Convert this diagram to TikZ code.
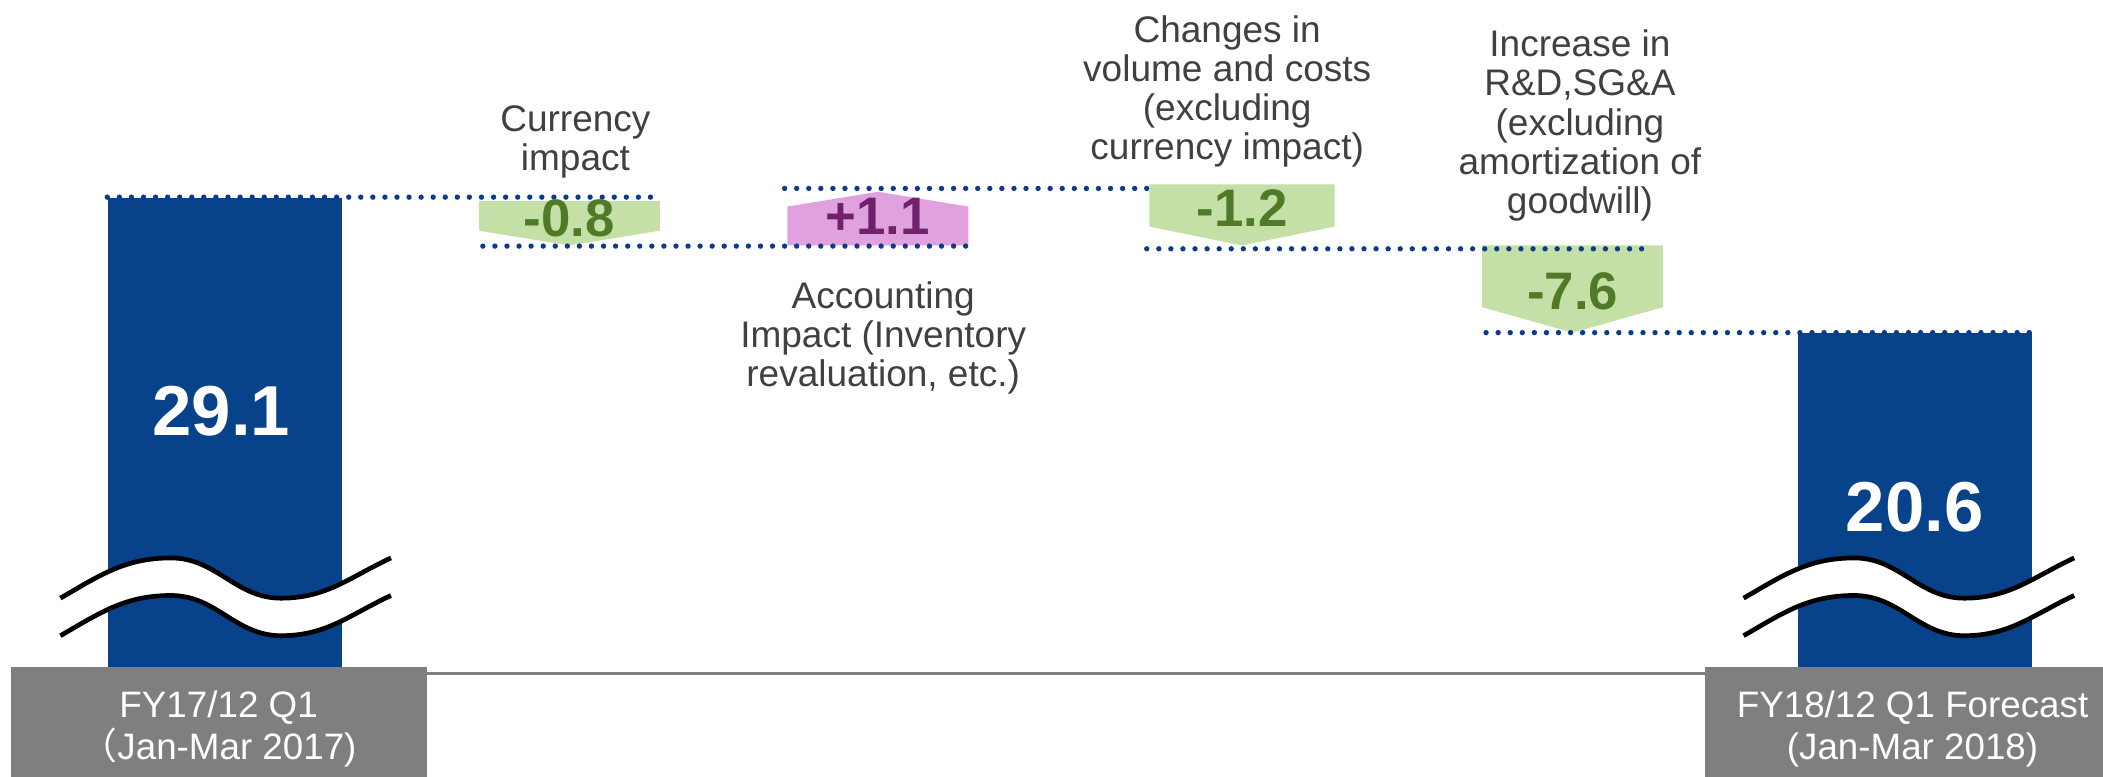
\documentclass[tikz,border=0pt]{standalone}
\usepackage{fontspec}
\setmainfont{Liberation Sans}
\newfontfamily\cjkfont{Noto Sans CJK SC}

\definecolor{barblue}{RGB}{8,66,138}
\definecolor{dotblue}{RGB}{10,60,140}
\definecolor{boxgray}{RGB}{127,127,127}
\definecolor{lossgreen}{RGB}{196,224,166}
\definecolor{lossdark}{RGB}{79,122,40}
\definecolor{gainpink}{RGB}{224,162,222}
\definecolor{gaindark}{RGB}{113,33,107}
\definecolor{txtgray}{RGB}{64,64,64}

\begin{document}
\begin{tikzpicture}[
  lvl/.style={draw=dotblue, line width=0.08cm, line cap=round, dash pattern=on 0pt off 0.18cm},
  lbl/.style={text=txtgray, align=center, inner sep=0pt, anchor=base, font=\fontsize{15.7}{16.6}\selectfont},
  num/.style={inner sep=0pt, font=\fontsize{22.4}{24}\selectfont\bfseries},
  bignum/.style={text=white, inner sep=0pt, font=\fontsize{30}{32}\selectfont\bfseries},
  bar/.style={fill=barblue, inner sep=0pt, anchor=north west},
  cat/.style={fill=boxgray, inner sep=0pt, anchor=north west},
  cattext/.style={text=white, align=center, inner sep=0pt, anchor=base, font=\fontsize{15.6}{18}\selectfont},
  brk/.style={line width=0.07cm}
]
\useasboundingbox (0,0) rectangle (31.36,-11.58);

% start and end bars
\node[bar, minimum width=3.50cm, minimum height=7.00cm] (bar1) at (1.60,-2.94) {};
\node[bar, minimum width=3.50cm, minimum height=4.98cm] (bar2) at (26.80,-4.96) {};
\node[bignum] (v1) at (3.30,-6.13) {29.1};
\node[bignum] (v2) at (28.55,-7.56) {20.6};

% level lines
\coordinate (a1) at (9.84,-2.94);
\coordinate (a2) at (7.20,-3.67);  \coordinate (b2) at (14.44,-3.67);
\coordinate (a3) at (11.70,-2.81); \coordinate (b3) at (19.90,-2.81);
\coordinate (a4) at (17.10,-3.71); \coordinate (b4) at (24.56,-3.71);
\coordinate (a5) at (22.16,-4.96);
\draw[lvl] (a3) -- (b3);

% steps
\fill[lossgreen] (7.14,-3.00) -- (9.84,-3.00) -- (9.84,-3.44) -- (8.49,-3.66) -- (7.14,-3.44) -- cycle;
\fill[gainpink] (11.74,-3.66) -- (11.74,-3.08) -- (13.09,-2.86) -- (14.44,-3.08) -- (14.44,-3.66) -- cycle;
\fill[lossgreen] (17.14,-2.75) -- (19.90,-2.75) -- (19.90,-3.38) -- (18.52,-3.66) -- (17.14,-3.38) -- cycle;
\fill[lossgreen] (22.10,-3.66) -- (24.80,-3.66) -- (24.80,-4.58) -- (23.45,-4.96) -- (22.10,-4.58) -- cycle;

\draw[lvl] (bar1.north west) -- (a1);
\draw[lvl] (a2) -- (b2);
\draw[lvl] (a4) -- (b4);
\draw[lvl] (a5) -- (bar2.north east);

\node[num, text=lossdark] (d1) at (8.49,-3.26) {-0.8};
\node[num, text=gaindark] (d2) at (13.09,-3.22) {+1.1};
\node[num, text=lossdark] (d3) at (18.52,-3.11) {-1.2};
\node[num, text=lossdark] (d4) at (23.45,-4.34) {-7.6};

% step labels (base = last line)
\node[lbl] (tcur) at (8.58,-2.54) {Currency\\impact};
\node[lbl] (tacc) at (13.17,-5.77) {Accounting\\Impact (Inventory\\revaluation, etc.)};
\node[lbl] (tvol) at (18.30,-2.38) {Changes in\\volume and costs\\(excluding\\currency impact)};
\node[lbl] (trd) at (23.56,-3.18) {Increase in\\R\&D,SG\&A\\(excluding\\amortization of\\goodwill)};

% axis breaks
\foreach \x in {0.90,26.00} {
  \begin{scope}[shift={(\x,0)}]
    \fill[white] (0,-8.92) to[out=30,in=180] (1.65,-8.32) to[out=0,in=180] (3.29,-8.92) to[out=0,in=205] (4.93,-8.32)
      -- (4.93,-8.88) to[out=205,in=0] (3.29,-9.48) to[out=180,in=0] (1.65,-8.88) to[out=180,in=30] (0,-9.48) -- cycle;
    \draw[brk] (0,-8.92) to[out=30,in=180] (1.65,-8.32) to[out=0,in=180] (3.29,-8.92) to[out=0,in=205] (4.93,-8.32);
    \draw[brk] (0,-9.48) to[out=30,in=180] (1.65,-8.88) to[out=0,in=180] (3.29,-9.48) to[out=0,in=205] (4.93,-8.88);
  \end{scope}
}

% categories
\node[cat, minimum width=6.20cm, minimum height=1.64cm] (lcat) at (0.16,-9.94) {};
\node[cat, minimum width=5.94cm, minimum height=1.64cm] (rcat) at (25.42,-9.94) {};
\draw[boxgray, line width=0.05cm] ([yshift=-0.10cm]lcat.north east) -- ([yshift=-0.10cm]rcat.north west);
\node[cattext] (lname) at (3.26,-11.33) {FY17/12 Q1\\{\cjkfont （}Jan-Mar 2017)};
\node[cattext] (rname) at (28.52,-11.33) {FY18/12 Q1 Forecast\\(Jan-Mar 2018)};

\end{tikzpicture}
\end{document}
